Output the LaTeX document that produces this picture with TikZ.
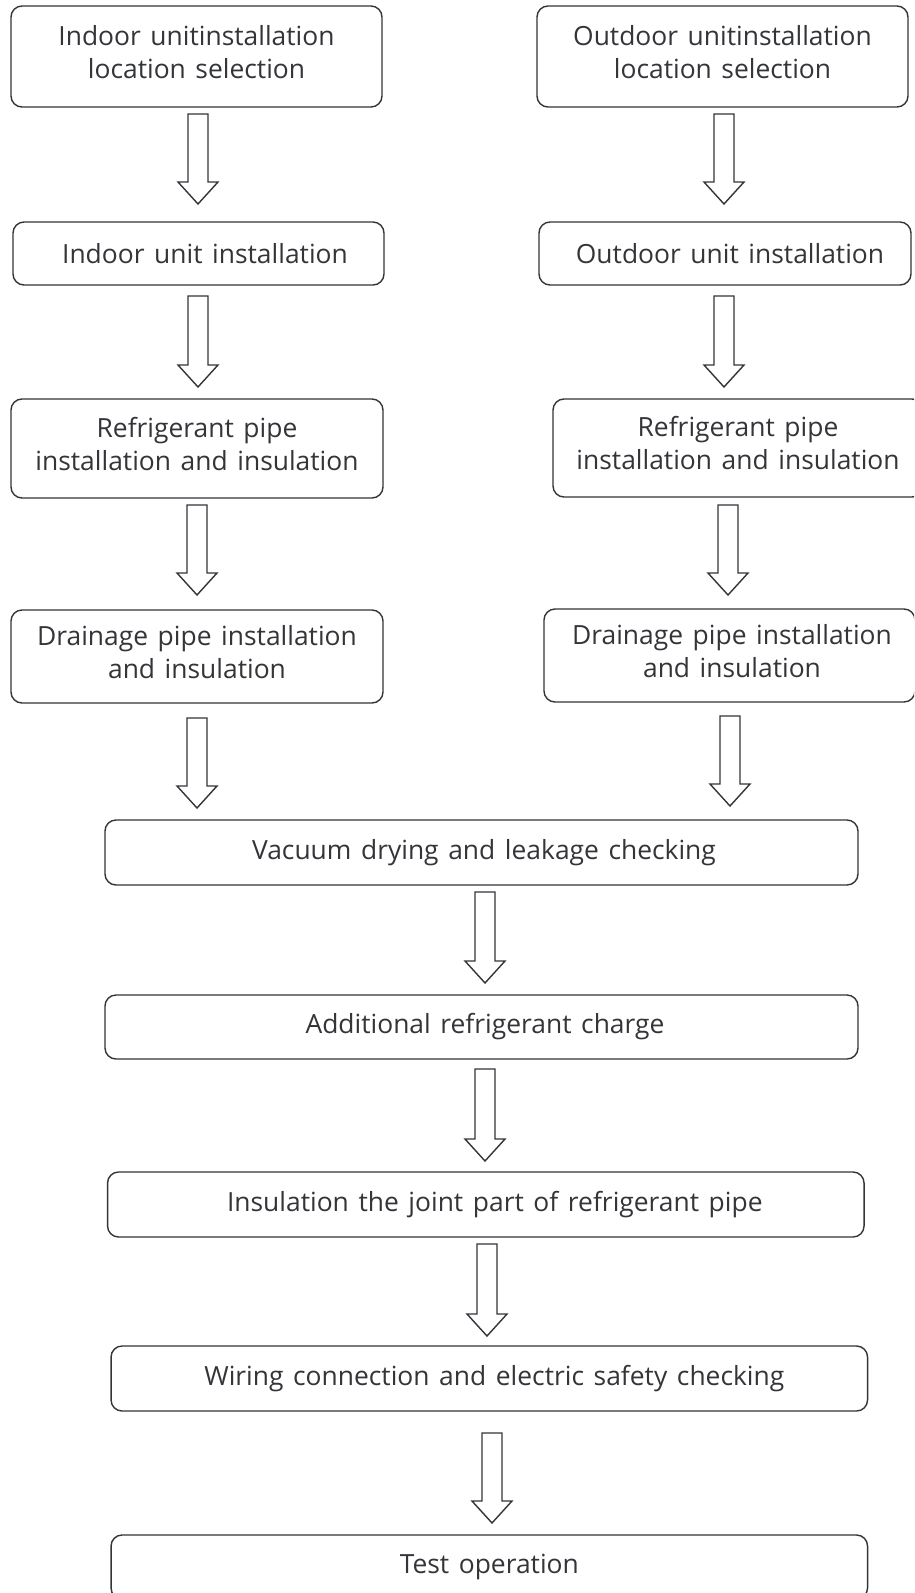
\documentclass[tikz,border=0pt]{standalone}
\usepackage{fontspec}
\setmainfont[WordSpace=1.4]{Open Sans}
\definecolor{ink}{HTML}{333539}
\newcommand{\lpad}[1]{\hspace*{#1}}
\tikzset{
  box/.style={draw=ink, line width=1.4pt, rounded corners=11pt, inner sep=0pt,
    align=center, text=ink, font=\fontsize{26.4}{33}\selectfont},
  twoline/.style={text depth=9.5pt},
  barrowline/.style={draw=ink, line width=1.4pt, fill=white, line join=miter},
  pics/barrow/.style={code={
    \path[barrowline] (-10,0) -- (10,0) -- (10,{#1-22}) -- (20,{#1-22}) -- (0,#1)
      -- (-20,{#1-22}) -- (-10,{#1-22}) -- cycle;}}
}
\begin{document}
\begin{tikzpicture}[x=1pt,y=-1pt]
\useasboundingbox (0,0) rectangle (914,1593);
\clip (0,0) rectangle (914,1593);
\fill[white] (0,0) rectangle (914,1593);
% left column
\node[box, twoline, minimum width=371pt, minimum height=101pt] (l1) at (196.5,56.5) {Indoor unitinstallation\\location selection};
\node[box, minimum width=371pt, minimum height=63pt] (l2) at (198.5,253.5) {\lpad{13pt}Indoor unit installation};
\node[box, twoline, minimum width=372pt, minimum height=99pt] (l3) at (197,448.5) {Refrigerant pipe\\installation and insulation};
\node[box, twoline, minimum width=372pt, minimum height=93pt] (l4) at (197,656.5) {Drainage pipe installation\\and insulation};
% right column
\node[box, twoline, minimum width=371pt, minimum height=101pt] (r1) at (722.5,56.5) {Outdoor unitinstallation\\location selection};
\node[box, minimum width=372pt, minimum height=63pt] (r2) at (725,253.5) {\lpad{10pt}Outdoor unit installation};
\node[box, twoline, minimum width=370pt, minimum height=98pt] (r3) at (738,448) {Refrigerant pipe\\installation and insulation};
\node[box, twoline, minimum width=371pt, minimum height=93pt] (r4) at (729.5,655.5) {\lpad{5pt}Drainage pipe installation\\\lpad{5pt}and insulation};
% common column
\node[box, minimum width=753pt, minimum height=65pt] (c1) at (481.5,852.5) {\lpad{5pt}Vacuum drying and leakage checking};
\node[box, minimum width=753pt, minimum height=64pt] (c2) at (481.5,1027) {\lpad{7pt}Additional refrigerant charge};
\node[box, minimum width=756.5pt, minimum height=65pt] (c3) at (485.8,1204.5) {\lpad{18pt}Insulation the joint part of refrigerant pipe};
\node[box, minimum width=756.5pt, minimum height=65pt] (c4) at (489.3,1378.5) {\lpad{10pt}Wiring connection and electric safety checking};
\node[box, minimum width=756.5pt, minimum height=64pt] (c5) at (489.3,1567) {Test operation};
% block arrows
\coordinate (al1) at (198,114);  \pic at (al1) {barrow=90};
\coordinate (ar1) at (724,114);  \pic at (ar1) {barrow=90};
\coordinate (al2) at (198,296);  \pic at (al2) {barrow=91};
\coordinate (ar2) at (724,296);  \pic at (ar2) {barrow=91};
\coordinate (al3) at (197,505);  \pic at (al3) {barrow=90};
\coordinate (ar3) at (728,505);  \pic at (ar3) {barrow=90};
\coordinate (al4) at (197,718);  \pic at (al4) {barrow=90};
\coordinate (ar4) at (730,716);  \pic at (ar4) {barrow=90};
\coordinate (ac1) at (485,892);  \pic at (ac1) {barrow=91};
\coordinate (ac2) at (485,1069); \pic at (ac2) {barrow=92};
\coordinate (ac3) at (487,1244); \pic at (ac3) {barrow=92};
\coordinate (ac4) at (492,1433); \pic at (ac4) {barrow=90};
\end{tikzpicture}
\end{document}
